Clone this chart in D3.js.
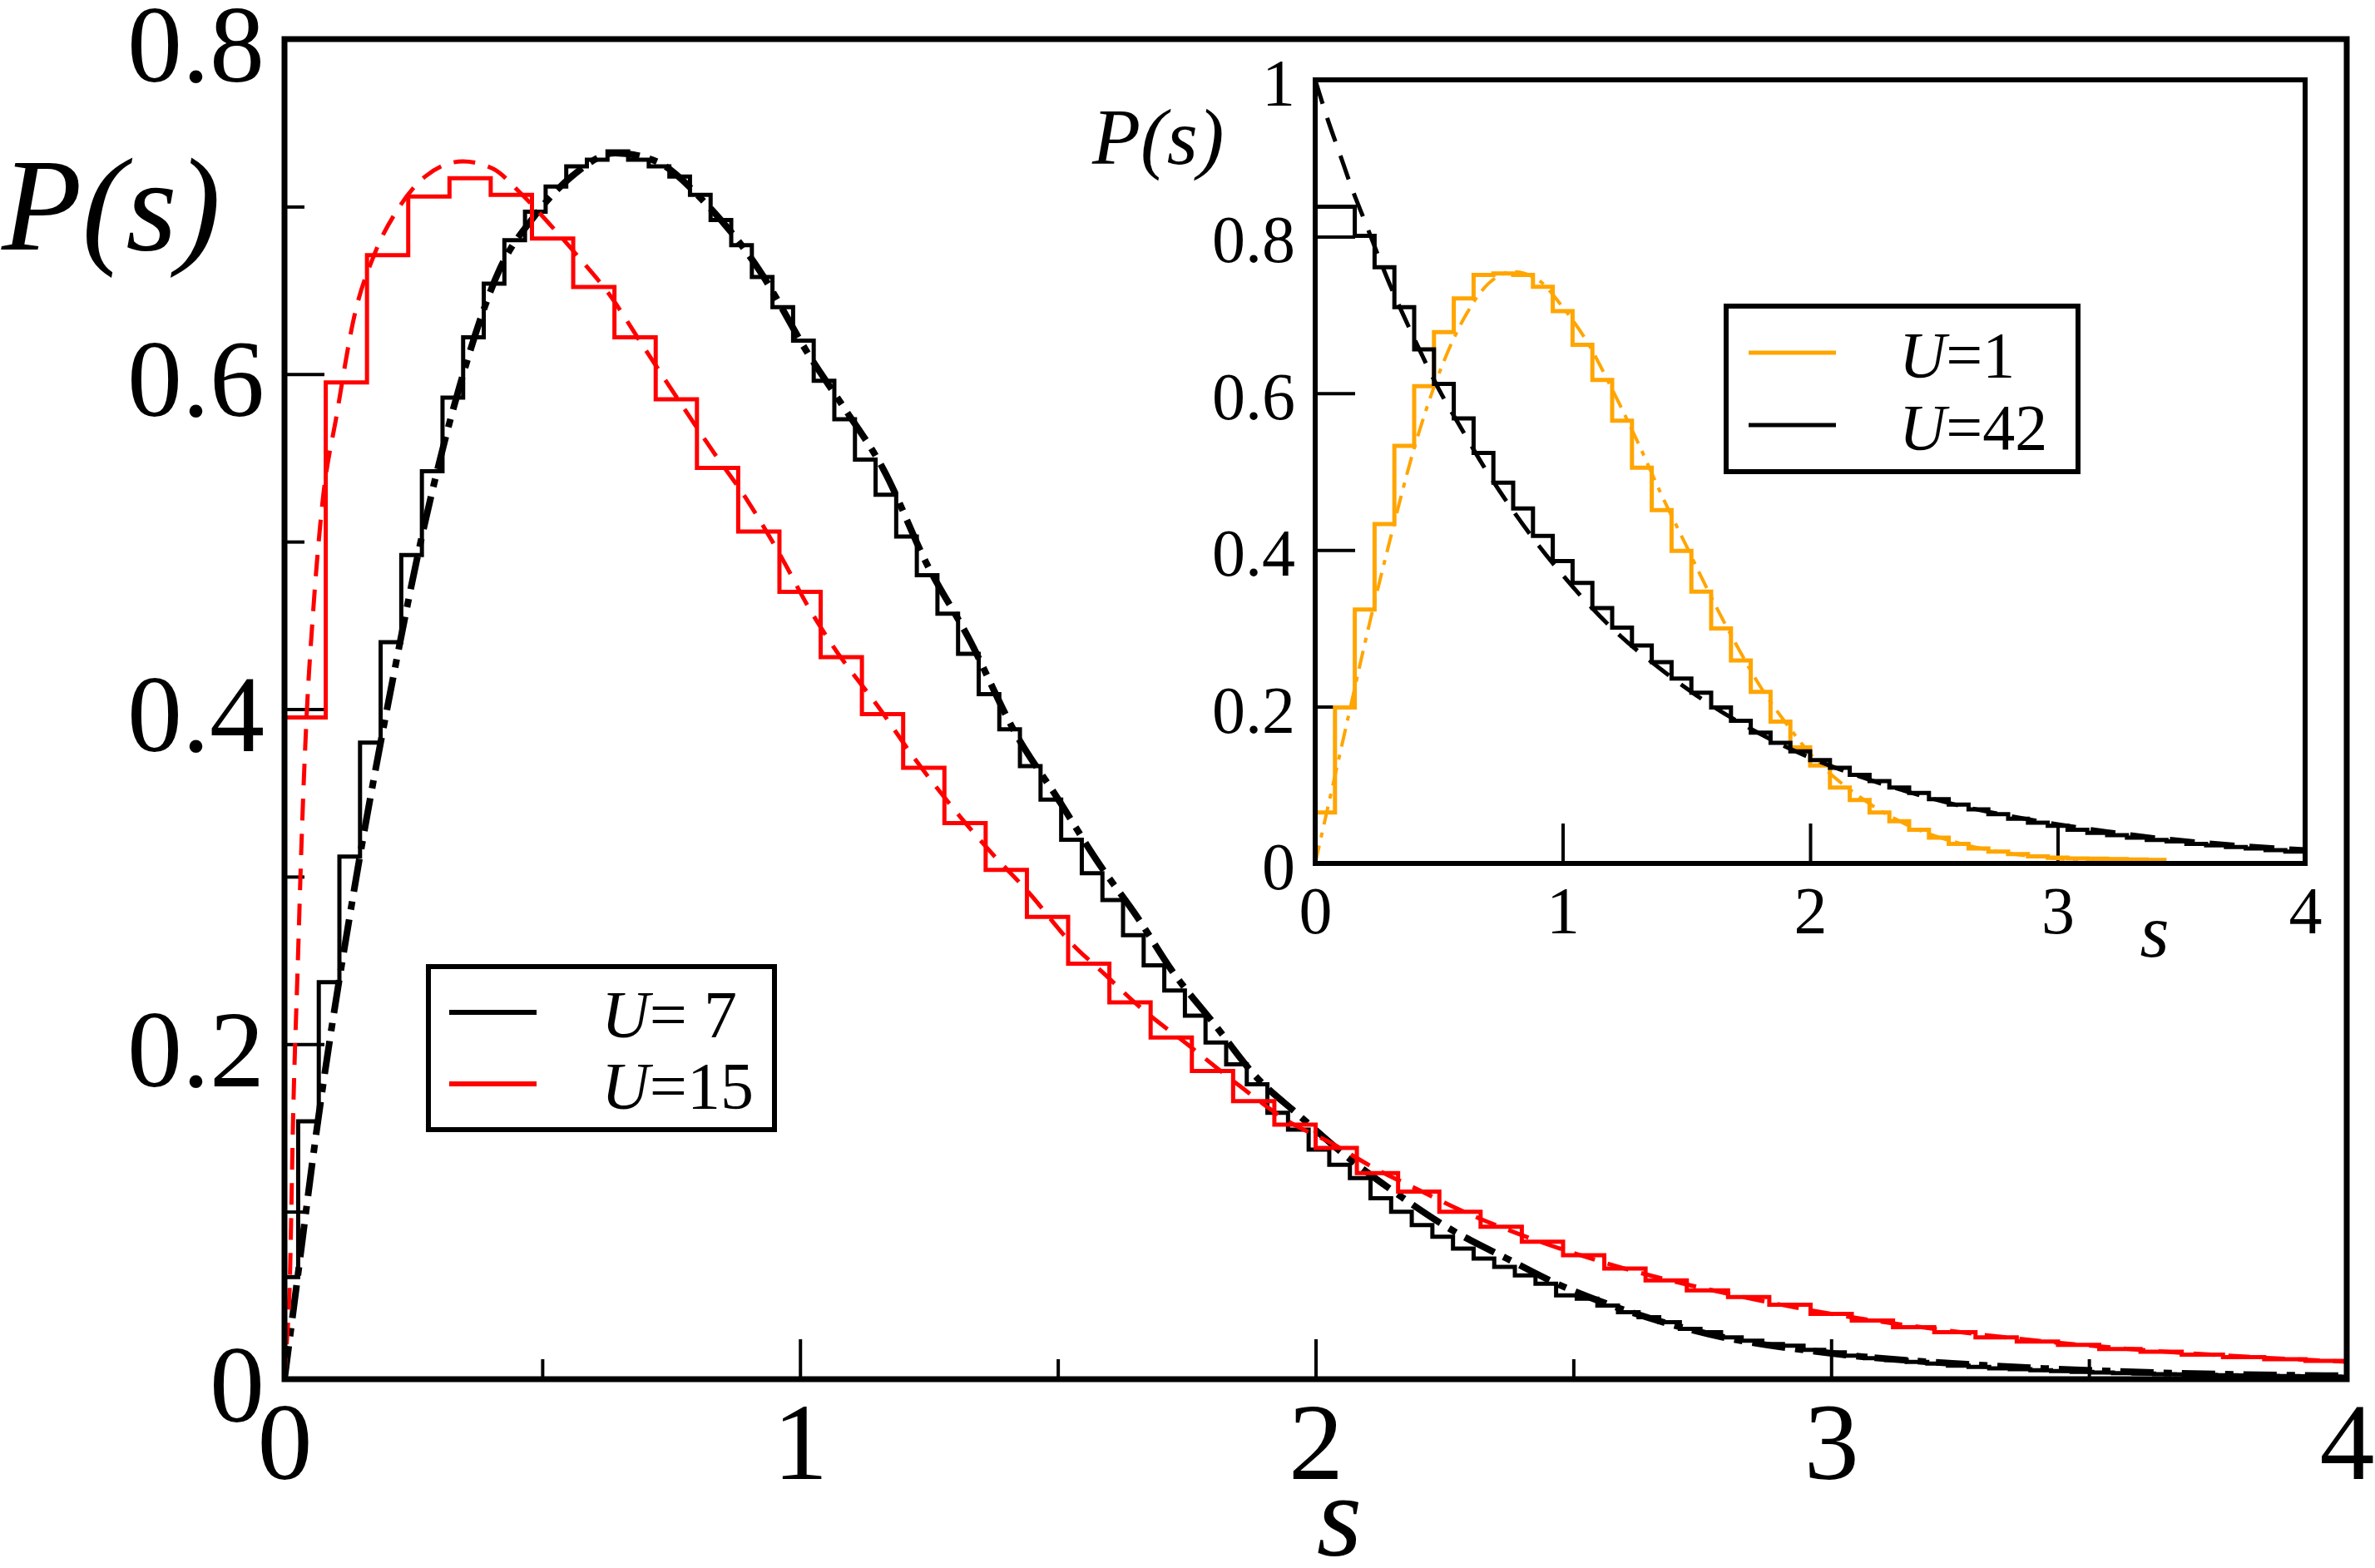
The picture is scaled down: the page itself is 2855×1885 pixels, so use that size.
<!DOCTYPE html>
<html>
<head>
<meta charset="utf-8">
<script src="https://cdn.jsdelivr.net/npm/d3@7"></script>
<style>
	body { margin: 0; background: #fff; }
	svg text { font-family: "Liberation Serif", "DejaVu Serif", "Times New Roman", serif; }
</style>
</head>
<body>
<div id="wrapper"></div>
<script>
// ---- main panel: histograms (bin values) and fits ----
// U=7, bins of 0.04 (first one is partial, 0..0.0265)
const u7Hist = [0.061, 0.154, 0.237, 0.312, 0.380, 0.440, 0.492, 0.542, 0.586, 0.622,
	0.654, 0.680, 0.697, 0.712, 0.724, 0.728, 0.733, 0.728, 0.724, 0.718,
	0.707, 0.692, 0.677, 0.658, 0.640, 0.620, 0.596, 0.573, 0.549, 0.528,
	0.503, 0.480, 0.457, 0.433, 0.409, 0.388, 0.366, 0.346, 0.322, 0.302,
	0.286, 0.265, 0.247, 0.232, 0.217, 0.201, 0.188, 0.176, 0.159, 0.149,
	0.137, 0.128, 0.120, 0.108, 0.100, 0.092, 0.085, 0.078, 0.072, 0.067,
	0.062, 0.057, 0.050, 0.048, 0.044, 0.040, 0.037, 0.034, 0.030, 0.028,
	0.025, 0.023, 0.021, 0.020, 0.0175, 0.016, 0.014, 0.0125, 0.0114, 0.0103,
	0.0093, 0.0081, 0.0073, 0.0065, 0.006, 0.0053, 0.0048, 0.0043, 0.004, 0.0036,
	0.0033, 0.003, 0.0028, 0.0026, 0.0024, 0.0022, 0.002, 0.0019, 0.0018, 0.0016, 0.0015];
const u7FirstEdge = 0.0265;
const u7BinWidth = 0.04;

// U=15, bins of 0.08
const u15Hist = [0.395, 0.595, 0.671, 0.706, 0.717, 0.707, 0.681, 0.652, 0.622, 0.585,
	0.544, 0.506, 0.470, 0.431, 0.397, 0.365, 0.332, 0.304, 0.276, 0.248,
	0.225, 0.204, 0.184, 0.166, 0.152, 0.138, 0.123, 0.112, 0.100, 0.091,
	0.082, 0.074, 0.066, 0.059, 0.053, 0.049, 0.0445, 0.039, 0.035, 0.031,
	0.028, 0.025, 0.0225, 0.0205, 0.018, 0.0164, 0.0147, 0.0131, 0.0119, 0.0109];
const u15BinWidth = 0.08;

const u7FitS = [0, 0.023, 0.063, 0.135, 0.214, 0.26, 0.339, 0.418, 0.484, 0.557,
	0.642, 0.721, 0.8135, 0.919, 1.02, 1.083, 1.162, 1.247, 1.326, 1.419,
	1.499, 1.577, 1.656, 1.721, 1.801, 1.886, 1.966, 2.064, 2.161, 2.259,
	2.371, 2.468, 2.565, 2.761, 2.998, 3.263, 3.541, 4.0];
const u7FitP = [0, 0.055, 0.150, 0.292, 0.424, 0.494, 0.592, 0.663, 0.694, 0.718,
	0.732, 0.727, 0.703, 0.663, 0.61, 0.581, 0.543, 0.486, 0.443, 0.385,
	0.347, 0.309, 0.275, 0.244, 0.213, 0.18, 0.158, 0.132, 0.11, 0.09,
	0.072, 0.057, 0.045, 0.027, 0.0155, 0.0089, 0.0048, 0.002];

const u15FitS = [0, 0.004, 0.01, 0.017, 0.026, 0.033, 0.042, 0.056, 0.0725, 0.102,
	0.135, 0.175, 0.221, 0.273, 0.346, 0.405, 0.458, 0.51, 0.57, 0.629,
	0.695, 0.761, 0.833, 0.899, 0.965, 1.018, 1.063, 1.155, 1.221, 1.294,
	1.366, 1.445, 1.524, 1.59, 1.656, 1.755, 1.853, 1.952, 2.024, 2.12,
	2.2, 2.28, 2.4, 2.6, 2.8, 3.0, 3.2, 3.4, 3.6, 3.8, 4.0];
const u15FitP = [0, 0.02, 0.055, 0.16, 0.25, 0.32, 0.39, 0.46, 0.52, 0.577,
	0.634, 0.672, 0.699, 0.718, 0.727, 0.7225, 0.708, 0.691, 0.67, 0.648,
	0.617, 0.586, 0.553, 0.524, 0.49, 0.46, 0.438, 0.40, 0.371, 0.342,
	0.316, 0.29, 0.261, 0.242, 0.223, 0.199, 0.175, 0.153, 0.142, 0.125,
	0.113, 0.101, 0.086, 0.066, 0.051, 0.039, 0.030, 0.023, 0.0175, 0.0135, 0.0104];

// ---- inset: U=1 and U=42, bins of 0.08 ----
const u1Hist = [0.065, 0.199, 0.324, 0.433, 0.533, 0.609, 0.678, 0.721, 0.751, 0.753,
	0.751, 0.736, 0.705, 0.662, 0.617, 0.565, 0.505, 0.451, 0.399, 0.347,
	0.300, 0.259, 0.219, 0.181, 0.148, 0.125, 0.097, 0.081, 0.065, 0.054,
	0.043, 0.033, 0.025, 0.019, 0.015, 0.012, 0.009, 0.0075, 0.0065, 0.006,
	0.0055, 0.005, 0.0045];
const u42Hist = [0.838, 0.838, 0.801, 0.761, 0.710, 0.656, 0.612, 0.568, 0.524, 0.486,
	0.453, 0.418, 0.386, 0.358, 0.326, 0.301, 0.278, 0.257, 0.236, 0.218,
	0.199, 0.182, 0.167, 0.154, 0.143, 0.132, 0.122, 0.113, 0.105, 0.097,
	0.090, 0.082, 0.075, 0.069, 0.063, 0.057, 0.052, 0.048, 0.043, 0.039,
	0.036, 0.033, 0.030, 0.028, 0.025, 0.023, 0.021, 0.019, 0.017, 0.015];
const insetBinWidth = 0.08;

const u1FitS = [0, 0.05, 0.1, 0.15, 0.2, 0.3, 0.4, 0.5, 0.6, 0.7,
	0.8, 0.9, 1.0, 1.1, 1.2, 1.3, 1.4, 1.5, 1.6, 1.7,
	1.8, 1.9, 2.0, 2.2, 2.4, 2.6, 2.8, 3.0, 3.2, 3.44];
const u1FitP = [0, 0.07, 0.14, 0.21, 0.28, 0.41, 0.53, 0.625, 0.695, 0.74,
	0.755, 0.745, 0.71, 0.665, 0.605, 0.54, 0.47, 0.405, 0.34, 0.28,
	0.225, 0.18, 0.14, 0.085, 0.048, 0.026, 0.013, 0.006, 0.003, 0.001];

const u42FitS = [0, 0.05, 0.1, 0.15, 0.2, 0.3, 0.4, 0.5, 0.6, 0.7,
	0.8, 0.9, 1.0, 1.2, 1.4, 1.6, 1.8, 2.0, 2.2, 2.4,
	2.6, 2.8, 3.0, 3.2, 3.4, 3.6, 3.8, 4.0];
const u42FitP = [1.0, 0.95, 0.905, 0.86, 0.82, 0.74, 0.67, 0.605, 0.55, 0.497,
	0.45, 0.407, 0.368, 0.30, 0.247, 0.202, 0.165, 0.135, 0.111, 0.091,
	0.074, 0.061, 0.05, 0.041, 0.033, 0.027, 0.022, 0.018];

// ticks and labels
const mainXTicks = [0, 1, 2, 3, 4];
const mainXMinor = [0.5, 1.5, 2.5, 3.5];
const mainYTicks = [0, 0.2, 0.4, 0.6, 0.8];
const mainYMinor = [0.1, 0.3, 0.5, 0.7];
const insetXTicks = [0, 1, 2, 3, 4];
const insetYTicks = [0, 0.2, 0.4, 0.6, 0.8, 1];
const mainLegend = [{u: "= 7", color: "#000000"}, {u: "=15", color: "#ff0000"}];
const insetLegend = [{u: "=1", color: "#ffa500"}, {u: "=42", color: "#000000"}];

let dimensions = {
	width: 2855,
	height: 1885,
	main: {left: 342, right: 2821, top: 47, bottom: 1658},
	inset: {left: 1581, right: 2771, top: 96, bottom: 1038}
};

let wrapper = d3.select("#wrapper").append("svg")
	.attr("width", dimensions.width)
	.attr("height", dimensions.height);

const m = dimensions.main;
const ins = dimensions.inset;

let xScale = d3.scaleLinear().domain([0, 4]).range([m.left, m.right]);
let yScale = d3.scaleLinear().domain([0, 0.8]).range([m.bottom, m.top]);
let xInset = d3.scaleLinear().domain([0, 4]).range([ins.left, ins.right]);
let yInset = d3.scaleLinear().domain([0, 1]).range([ins.bottom, ins.top]);

const defs = wrapper.append("defs");
defs.append("clipPath").attr("id", "clipMain").append("rect")
	.attr("x", m.left).attr("y", m.top)
	.attr("width", m.right - m.left).attr("height", m.bottom - m.top);
defs.append("clipPath").attr("id", "clipInset").append("rect")
	.attr("x", ins.left).attr("y", ins.top)
	.attr("width", ins.right - ins.left).attr("height", ins.bottom - ins.top);

// left edge of each bin, plus the right edge of the last one
function histPoints(values, firstEdge, width) {
	const pts = values.map((v, i) => [i === 0 ? 0 : firstEdge + (i - 1) * width, v]);
	pts.push([firstEdge + (values.length - 1) * width, values[values.length - 1]]);
	return pts;
}

function drawAxes(g, xs, ys, xTicks, yTicks, major, fontSize, pad) {
	const xAxis = d3.axisBottom(xs).tickValues(xTicks).tickSizeInner(-major).tickSizeOuter(0)
		.tickPadding(pad.x).tickFormat(d => String(d));
	const yAxis = d3.axisLeft(ys).tickValues(yTicks).tickSizeInner(-major).tickSizeOuter(0)
		.tickPadding(pad.y).tickFormat(d => String(d));
	const ax = g.append("g").attr("transform", `translate(0,${ys.range()[0]})`).call(xAxis);
	const ay = g.append("g").attr("transform", `translate(${xs.range()[0]},0)`).call(yAxis);
	[ax, ay].forEach(a => {
		a.select(".domain").remove();
		a.attr("font-size", fontSize).attr("font-family", null);
		a.selectAll("line").attr("stroke-width", 4);
		a.selectAll("text").attr("fill", "#000");
	});
	ay.selectAll("text").attr("dy", "0.38em");
}

// ---------------- main panel ----------------
let container = wrapper.append("g");

drawAxes(container, xScale, yScale, mainXTicks, mainYTicks, 48, 132, {x: 26, y: 24});

container.append("g").attr("transform", `translate(0,${m.bottom})`)
	.call(d3.axisBottom(xScale).tickValues(mainXMinor).tickSizeInner(-24).tickSizeOuter(0).tickFormat(""))
	.call(a => a.select(".domain").remove())
	.selectAll("line").attr("stroke-width", 4);
container.append("g").attr("transform", `translate(${m.left},0)`)
	.call(d3.axisLeft(yScale).tickValues(mainYMinor).tickSizeInner(-24).tickSizeOuter(0).tickFormat(""))
	.call(a => a.select(".domain").remove())
	.selectAll("line").attr("stroke-width", 4);

const stepLine = d3.line().x(d => xScale(d[0])).y(d => yScale(d[1])).curve(d3.curveStepAfter);
const smoothLine = d3.line().x(d => xScale(d[0])).y(d => yScale(d[1])).curve(d3.curveMonotoneX);

const plot = container.append("g").attr("clip-path", "url(#clipMain)");

plot.append("path")
	.attr("d", stepLine(histPoints(u7Hist, u7FirstEdge, u7BinWidth)))
	.attr("fill", "none").attr("stroke", "#000").attr("stroke-width", 5);
plot.append("path")
	.attr("d", smoothLine(u7FitS.map((s, i) => [s, u7FitP[i]])))
	.attr("fill", "none").attr("stroke", "#000").attr("stroke-width", 8)
	.attr("stroke-dasharray", "40,12,10,12");
plot.append("path")
	.attr("d", stepLine(histPoints(u15Hist, u15BinWidth, u15BinWidth)))
	.attr("fill", "none").attr("stroke", "#ff0000").attr("stroke-width", 5);
plot.append("path")
	.attr("d", smoothLine(u15FitS.map((s, i) => [s, u15FitP[i]])))
	.attr("fill", "none").attr("stroke", "#ff0000").attr("stroke-width", 5)
	.attr("stroke-dasharray", "26,16");

container.append("rect")
	.attr("x", m.left).attr("y", m.top)
	.attr("width", m.right - m.left).attr("height", m.bottom - m.top)
	.attr("fill", "none").attr("stroke", "#000").attr("stroke-width", 7);

container.append("text").attr("x", 2).attr("y", 300)
	.attr("font-size", 158).attr("font-style", "italic").text("P(s)");
container.append("text").attr("x", 1610).attr("y", 1870)
	.attr("text-anchor", "middle").attr("font-size", 140).attr("font-style", "italic").text("s");

// main legend
const leg = container.append("g");
leg.append("rect").attr("x", 515).attr("y", 1162).attr("width", 416).attr("height", 196)
	.attr("fill", "#fff").attr("stroke", "#000").attr("stroke-width", 6);
mainLegend.forEach((d, i) => {
	const yy = 1217 + i * 86;
	leg.append("line").attr("x1", 540).attr("x2", 645).attr("y1", yy).attr("y2", yy)
		.attr("stroke", d.color).attr("stroke-width", 6);
	const t = leg.append("text").attr("x", 723).attr("y", yy + 30).attr("font-size", 80);
	t.append("tspan").attr("font-style", "italic").text("U");
	t.append("tspan").text(d.u);
});

// ---------------- inset ----------------
let inset = wrapper.append("g");

inset.append("rect")
	.attr("x", ins.left).attr("y", ins.top)
	.attr("width", ins.right - ins.left).attr("height", ins.bottom - ins.top)
	.attr("fill", "#fff");

drawAxes(inset, xInset, yInset, insetXTicks, insetYTicks, 48, 80, {x: 27, y: 24});

const stepInset = d3.line().x(d => xInset(d[0])).y(d => yInset(d[1])).curve(d3.curveStepAfter);
const smoothInset = d3.line().x(d => xInset(d[0])).y(d => yInset(d[1])).curve(d3.curveMonotoneX);

const iplot = inset.append("g").attr("clip-path", "url(#clipInset)");
iplot.append("path")
	.attr("d", stepInset(histPoints(u1Hist, insetBinWidth, insetBinWidth)))
	.attr("fill", "none").attr("stroke", "#ffa500").attr("stroke-width", 5);
iplot.append("path")
	.attr("d", smoothInset(u1FitS.map((s, i) => [s, u1FitP[i]])))
	.attr("fill", "none").attr("stroke", "#ffa500").attr("stroke-width", 4)
	.attr("stroke-dasharray", "22,10,6,10");
iplot.append("path")
	.attr("d", stepInset(histPoints(u42Hist, insetBinWidth, insetBinWidth)))
	.attr("fill", "none").attr("stroke", "#000").attr("stroke-width", 5);
iplot.append("path")
	.attr("d", smoothInset(u42FitS.map((s, i) => [s, u42FitP[i]])))
	.attr("fill", "none").attr("stroke", "#000").attr("stroke-width", 5)
	.attr("stroke-dasharray", "30,18");

inset.append("rect")
	.attr("x", ins.left).attr("y", ins.top)
	.attr("width", ins.right - ins.left).attr("height", ins.bottom - ins.top)
	.attr("fill", "none").attr("stroke", "#000").attr("stroke-width", 6);

inset.append("text").attr("x", 1313).attr("y", 197)
	.attr("font-size", 95).attr("font-style", "italic").text("P(s)");
inset.append("text").attr("x", 2590).attr("y", 1150)
	.attr("text-anchor", "middle").attr("font-size", 90).attr("font-style", "italic").text("s");

const ileg = inset.append("g");
ileg.append("rect").attr("x", 2075).attr("y", 368).attr("width", 423).attr("height", 199)
	.attr("fill", "#fff").attr("stroke", "#000").attr("stroke-width", 6);
insetLegend.forEach((d, i) => {
	const yy = 424 + i * 87;
	ileg.append("line").attr("x1", 2102).attr("x2", 2207).attr("y1", yy).attr("y2", yy)
		.attr("stroke", d.color).attr("stroke-width", 5);
	const t = ileg.append("text").attr("x", 2283).attr("y", yy + 29).attr("font-size", 78);
	t.append("tspan").attr("font-style", "italic").text("U");
	t.append("tspan").text(d.u);
});
</script>
</body>
</html>
